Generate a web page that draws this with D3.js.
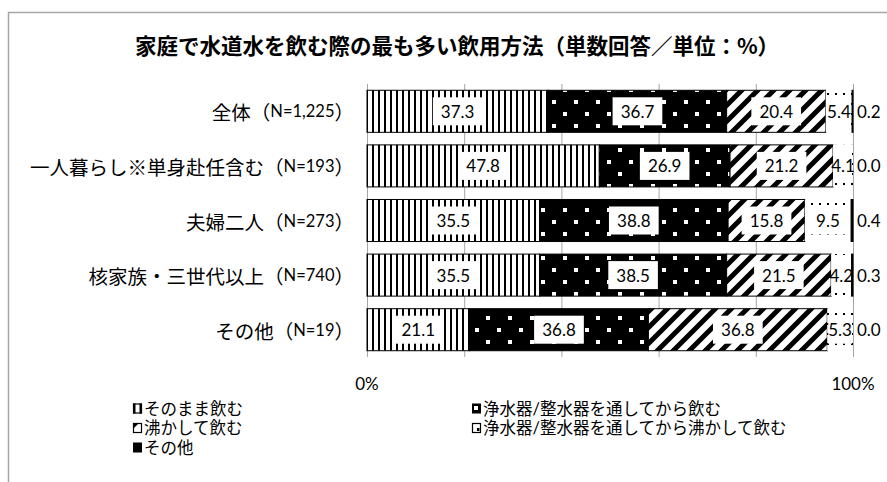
<!DOCTYPE html>
<html><head><meta charset="utf-8">
<script src="https://cdn.jsdelivr.net/npm/d3@7"></script>
<style>
html,body{margin:0;padding:0;background:#fff;}
svg{display:block;}
</style></head>
<body><svg id="chart" width="887" height="482"></svg>
<script>
const title = "家庭で水道水を飲む際の最も多い飲用方法（単数回答／単位：%）";
const categories = ["全体（N=1,225）","一人暮らし※単身赴任含む（N=193）","夫婦二人（N=273）","核家族・三世代以上（N=740）","その他（N=19）"];
const seriesNames = ["そのまま飲む","浄水器/整水器を通してから飲む","沸かして飲む","浄水器/整水器を通してから沸かして飲む","その他"];
const s1 = [37.3, 47.8, 35.5, 35.5, 21.1];
const s2 = [36.7, 26.9, 38.8, 38.5, 36.8];
const s3 = [20.4, 21.2, 15.8, 21.5, 36.8];
const s4 = [5.4, 4.1, 9.5, 4.2, 5.3];
const s5 = [0.2, 0.0, 0.4, 0.3, 0.0];
const axisTicks = [0, 20, 40, 60, 80, 100];
const axisLabels = ["0%", "100%"];

const series = [s1, s2, s3, s4, s5];
const svg = d3.select("#chart");
const CJK = "'Noto Sans CJK JP', sans-serif";
const NUM = "Lato, 'Noto Sans CJK JP', sans-serif";

// chart border
svg.append("rect").attr("x", 8.5).attr("y", 12.5).attr("width", 1000).attr("height", 1000)
  .attr("fill", "#fff").attr("stroke", "#a6a6a6").attr("stroke-width", 1.5);

// patterns
const defs = svg.append("defs");
const p1 = defs.append("pattern").attr("id", "p1").attr("patternUnits", "userSpaceOnUse").attr("width", 6).attr("height", 10);
p1.append("rect").attr("width", 6).attr("height", 10).attr("fill", "#fff");
p1.append("rect").attr("x", 0).attr("width", 2).attr("height", 10).attr("fill", "#000");
const p2 = defs.append("pattern").attr("id", "p2").attr("patternUnits", "userSpaceOnUse").attr("width", 22).attr("height", 24);
p2.append("rect").attr("width", 22).attr("height", 24).attr("fill", "#000");
p2.append("rect").attr("x", 2).attr("y", 4).attr("width", 4).attr("height", 4).attr("fill", "#fff");
p2.append("rect").attr("x", 13).attr("y", 16).attr("width", 4).attr("height", 4).attr("fill", "#fff");
const p3 = defs.append("pattern").attr("id", "p3").attr("patternUnits", "userSpaceOnUse").attr("width", 16).attr("height", 16);
p3.append("rect").attr("width", 16).attr("height", 16).attr("fill", "#fff");
p3.append("path").attr("d", "M-4,4 L4,-4 M0,16 L16,0 M12,20 L20,12").attr("stroke", "#000").attr("stroke-width", 5);
const p4 = defs.append("pattern").attr("id", "p4").attr("patternUnits", "userSpaceOnUse").attr("width", 8).attr("height", 10);
p4.append("rect").attr("width", 8).attr("height", 10).attr("fill", "#fff");
p4.append("rect").attr("x", 3).attr("y", 3).attr("width", 2).attr("height", 2).attr("fill", "#000");
const fills = ["url(#p1)", "url(#p2)", "url(#p3)", "url(#p4)", "#000"];

// title
svg.append("text").attr("x", 457).attr("y", 44).attr("text-anchor", "middle").attr("dominant-baseline", "central")
  .attr("font-family", CJK).attr("font-weight", "bold").attr("font-size", 21.5).attr("fill", "#000").text(title);

const x = d3.scaleLinear().domain([0, 100]).range([367, 853]);
const y = d3.scaleBand().domain(categories).range([84, 357]).paddingInner(0.23).paddingOuter(0.115);

// gridlines
svg.append("g").selectAll("line").data(axisTicks).join("line")
  .attr("x1", d => x(d) + 0.5).attr("x2", d => x(d) + 0.5).attr("y1", 84).attr("y2", 357)
  .attr("stroke", "#a6a6a6").attr("stroke-width", 1);

// stacked data
const rows = categories.map((c, i) => {
  let acc = 0;
  return series.map((s, k) => { const v = s[i]; const seg = {cat: c, k, v, x0: acc, x1: acc + v}; acc += v; return seg; });
});

const g = svg.append("g");
rows.forEach(segs => {
  segs.forEach(d => {
    if (d.v <= 0) return;
    g.append("rect").attr("x", x(d.x0)).attr("y", y(d.cat)).attr("width", x(d.x1) - x(d.x0)).attr("height", y.bandwidth())
      .attr("fill", fills[d.k])
      .attr("stroke", d.k === 3 ? "none" : "#000").attr("stroke-width", 1);
  });
});

// labels
const lg = svg.append("g");
rows.forEach(segs => {
  segs.forEach(d => {
    const cy = y(d.cat) + y.bandwidth() / 2;
    const txt = d.v.toFixed(1);
    if (d.k === 4) {
      lg.append("text").attr("x", x(100) + 4).attr("y", cy).attr("dominant-baseline", "central")
        .attr("font-family", NUM).attr("font-size", 17).attr("fill", "#000").text(txt);
      return;
    }
    const cx = (x(d.x0) + x(d.x1)) / 2;
    const t = lg.append("text").attr("x", cx).attr("y", cy).attr("text-anchor", "middle").attr("dominant-baseline", "central")
      .attr("font-family", NUM).attr("font-size", 17).attr("fill", "#000").text(txt);
    const bb = t.node().getBBox();
    const w = Math.min(bb.width + 16, x(d.x1) - x(d.x0) - 2);
    lg.insert("rect", () => t.node()).attr("x", cx - w / 2).attr("y", cy - 14).attr("width", w).attr("height", 28).attr("fill", "#fff");
  });
});

// category labels (CJK parts and ASCII parts in separate tspans)
const cg = svg.append("g");
categories.forEach(c => {
  const t = cg.append("text").attr("x", 354).attr("y", y(c) + y.bandwidth() / 2).attr("text-anchor", "end")
    .attr("dominant-baseline", "central").attr("fill", "#000");
  c.split(/([\x20-\x7E]+)/).filter(s => s.length).forEach(part => {
    const ascii = /^[\x20-\x7E]+$/.test(part);
    t.append("tspan").attr("font-family", ascii ? "Lato, sans-serif" : CJK)
      .attr("font-size", ascii ? 16.5 : 19.5).text(part);
  });
});

// axis labels
svg.append("g").selectAll("text").data(axisLabels).join("text")
  .attr("x", (d, i) => x(i === 0 ? 0 : 100)).attr("y", 383).attr("text-anchor", "middle").attr("dominant-baseline", "central")
  .attr("font-family", NUM).attr("font-size", 17).attr("fill", "#000").text(d => d);

// legend
const legPos = [[133, 408.5], [472, 408.5], [133, 428], [472, 428], [133, 447.5]];
const leg = svg.append("g");
seriesNames.forEach((name, k) => {
  const [lx, ly] = legPos[k];
  const m = leg.append("g").attr("transform", `translate(${lx},${ly - 5})`);
  if (k === 0) {
    m.append("rect").attr("x", 0.5).attr("y", 0.5).attr("width", 8).attr("height", 9).attr("fill", "#fff").attr("stroke", "#000").attr("stroke-width", 1.2);
    m.append("rect").attr("x", 0).attr("y", 0).attr("width", 2.5).attr("height", 10).attr("fill", "#000");
    m.append("rect").attr("x", 6.5).attr("y", 0).attr("width", 2.5).attr("height", 10).attr("fill", "#000");
  } else if (k === 1) {
    m.append("rect").attr("x", 0).attr("y", 0).attr("width", 9).attr("height", 10).attr("fill", "#000");
    m.append("rect").attr("x", 2).attr("y", 2.5).attr("width", 4).attr("height", 4).attr("fill", "#fff");
  } else if (k === 2) {
    m.append("rect").attr("x", 0.5).attr("y", 0.5).attr("width", 8).attr("height", 9).attr("fill", "#fff").attr("stroke", "#000").attr("stroke-width", 1.2);
    m.append("path").attr("d", "M0,0 L6,0 L0,6 Z").attr("fill", "#000");
  } else if (k === 3) {
    m.append("rect").attr("x", 0.5).attr("y", 0.5).attr("width", 8).attr("height", 9).attr("fill", "#fff").attr("stroke", "#000").attr("stroke-width", 1.2);
    m.append("rect").attr("x", 5).attr("y", 5).attr("width", 2.5).attr("height", 3).attr("fill", "#000");
  } else {
    m.append("rect").attr("x", 0).attr("y", 0).attr("width", 9).attr("height", 10).attr("fill", "#000");
  }
  leg.append("text").attr("x", lx + 11).attr("y", ly).attr("dominant-baseline", "central")
    .attr("font-family", NUM).attr("font-size", 16.5).attr("fill", "#000").text(name);
});
</script></body></html>
